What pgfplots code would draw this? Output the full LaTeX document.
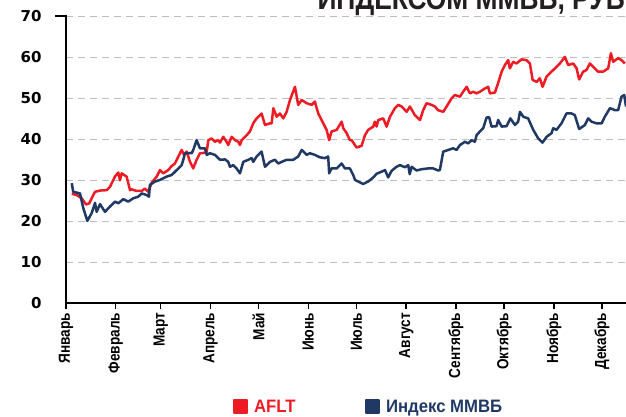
\documentclass[border=0pt]{standalone}
\usepackage{pgfplots}
\pgfplotsset{compat=1.18}
\usepackage{fontspec}
\setmainfont{Liberation Sans}
\newfontfamily\cond[FakeStretch=0.85]{Liberation Sans}
\newfontfamily\condL[FakeStretch=0.93]{Liberation Sans}
\newfontfamily\numfont{DejaVu Sans}
\definecolor{aflt}{RGB}{237,28,36}
\definecolor{micex}{RGB}{31,56,100}
\definecolor{gridgray}{RGB}{190,190,190}
\definecolor{titlegray}{RGB}{35,31,32}

\begin{document}
\begin{tikzpicture}
\begin{axis}[
    at={(0pt,0pt)}, anchor=south west,
    scale only axis, width=560pt, height=287pt,
    xmin=0, xmax=349, ymin=0, ymax=70,
    axis lines*=left,
    axis line style={line width=2pt},
    /pgf/number format/assume math mode=true,
    ytick={0,10,...,70},
    ymajorgrids,
    grid style={gridgray, line width=1.2pt, dash pattern=on 7pt off 5pt},
    ytick style={draw=none},
    yticklabel style={font=\numfont\bfseries\fontsize{15}{15}\selectfont, xshift=-15pt},
    xtick={0,31,59,90,120,151,181,212,243,273,304,334},
    xticklabels={Январь,Февраль,Март,Апрель,Май,Июнь,Июль,Август,Сентябрь,Октябрь,Ноябрь,Декабрь},
    xtick style={black, line width=1.5pt},
    tick align=outside, major tick length=6pt,
    xticklabel style={rotate=90, anchor=east, font=\cond\bfseries\fontsize{16}{16}\selectfont},
    legend style={at={(0.54,-0.36)}, anchor=center, draw=none, fill=none,
        legend columns=2, font=\condL\bfseries\fontsize{18}{18}\selectfont,
        /tikz/every even column/.append style={column sep=67pt}},
    legend image code/.code={\fill[#1] (0pt,-6.5pt) rectangle (13pt,6.5pt); \path (17pt,0pt);},
    every axis plot/.append style={line width=2.5pt, line join=round},
]
% AFLT
\addplot[aflt] coordinates {
(3.6,26.7)(6.7,26.4)(9.8,25.6)(12.5,24.1)(14.5,24.4)(17.0,26.4)(18.1,27.2)(21.2,27.5)(25.4,27.6)(27.4,28.4)
(30.5,30.9)(32.6,31.9)(33.6,30.0)(34.7,31.7)(37.8,30.9)(39.9,27.6)(40.9,27.8)(44.0,27.4)(47.2,27.4)(49.2,28.0)
(51.3,27.2)(53.4,29.4)(56.5,30.9)(58.6,32.5)(60.6,31.7)(63.7,32.5)(65.9,33.5)(67.9,34.1)(70.0,35.8)(72.1,37.4)
(73.5,36.2)(75.2,37.0)(77.3,34.5)(79.3,32.9)(81.4,35.0)(83.5,36.6)(86.6,36.7)(87.7,37.0)(88.7,39.8)(90.8,40.2)
(92.8,39.4)(94.9,39.8)(96.0,39.2)(98.0,40.6)(100.1,39.4)(101.1,38.6)(103.2,40.6)(105.3,39.8)(107.4,39.4)(108.4,38.6)
(109.5,39.8)(112.6,41.0)(114.6,41.9)(116.7,43.9)(118.8,45.1)(121.9,46.3)(124.0,43.5)(127.1,43.9)(128.2,43.9)(129.2,47.6)
(131.3,45.5)(133.3,46.3)(135.4,45.1)(137.5,46.7)(139.6,49.6)(142.7,52.8)(144.7,48.4)(146.9,49.6)(150.0,48.8)(153.1,48.4)
(155.1,49.2)(157.2,46.3)(159.3,44.7)(162.4,42.3)(164.0,39.8)(165.5,41.9)(168.7,42.3)(171.8,44.3)(172.8,42.7)(174.9,41.5)
(176.9,39.8)(178.0,39.8)(181.1,38.0)(184.2,38.4)(186.3,41.0)(188.3,42.3)(191.5,43.1)(192.5,44.3)(193.6,43.1)(194.6,44.7)
(197.7,45.1)(199.8,43.1)(201.9,45.5)(205.0,47.6)(207.0,48.4)(209.2,48.0)(212.3,46.7)(214.3,48.0)(217.4,45.9)(220.6,44.7)
(222.6,47.1)(224.7,48.8)(227.8,48.4)(229.9,48.0)(231.9,47.1)(235.1,46.7)(237.2,48.0)(240.3,50.0)(242.4,50.8)(245.5,50.4)
(247.5,51.6)(249.7,52.8)(251.7,51.2)(253.8,51.6)(255.9,51.2)(257.9,51.6)(261.1,52.4)(263.1,52.8)(264.2,51.2)(267.3,51.4)
(269.3,53.7)(271.5,56.5)(273.5,58.1)(275.6,59.3)(276.6,57.3)(278.7,58.9)(280.8,58.5)(283.9,59.5)(287.0,59.3)(289.1,58.5)
(290.8,54.5)(293.3,54.0)(295.3,54.9)(297.0,52.8)(299.5,55.3)(302.6,56.5)(304.7,57.3)(307.8,58.5)(310.9,60.1)(313.0,58.1)
(316.1,58.5)(318.2,57.3)(319.8,54.6)(322.3,56.5)(324.4,56.9)(326.5,58.5)(328.5,57.7)(331.6,56.5)(334.8,56.5)(337.9,57.3)
(339.6,61.0)(341.0,58.9)(344.1,59.8)(346.2,59.3)(348.3,58.5)
};
\addlegendentry{\textcolor{aflt}{AFLT}}
% Индекс ММВБ
\addplot[micex] coordinates {
(3.6,29.3)(4.5,27.2)(8.7,26.8)(10.8,23.2)(13.3,20.1)(16.0,22.0)(18.1,24.5)(19.1,22.3)(21.2,24.2)(24.3,22.3)
(27.4,23.6)(30.5,24.8)(32.6,24.4)(35.7,25.4)(38.8,24.8)(41.9,25.6)(45.0,26.0)(47.2,26.8)(50.3,26.4)(51.7,26.0)
(52.3,28.9)(55.5,29.7)(58.6,30.1)(62.7,30.9)(65.9,31.3)(69.0,32.5)(72.1,33.7)(73.1,35.0)(74.1,36.6)(76.2,36.6)
(78.3,36.6)(79.3,37.4)(81.4,39.8)(83.5,37.8)(86.6,37.8)(87.7,36.2)(89.7,36.6)(92.8,36.2)(96.0,35.0)(99.1,35.1)
(101.1,34.5)(102.2,33.3)(104.2,33.7)(106.3,32.9)(108.4,31.7)(110.5,34.5)(113.6,35.0)(115.7,35.4)(116.7,34.5)(118.8,35.8)
(121.9,37.0)(124.0,33.3)(127.1,34.5)(130.2,35.0)(132.3,34.1)(134.4,34.5)(137.5,35.0)(141.6,35.0)(144.7,35.8)(146.9,37.4)
(150.0,36.2)(152.0,36.6)(155.1,36.2)(158.3,35.6)(161.4,35.4)(163.4,35.8)(164.0,31.7)(165.5,32.9)(168.7,32.9)(171.8,34.1)
(173.8,32.9)(176.9,32.9)(179.0,31.3)(180.1,30.1)(182.1,29.7)(185.2,29.1)(188.3,29.7)(191.5,30.7)(193.6,31.6)(196.7,32.1)
(198.8,32.5)(200.8,30.7)(202.9,32.3)(206.0,33.3)(208.1,33.7)(211.2,33.2)(213.3,33.7)(214.2,31.5)(215.4,33.3)(218.5,32.4)
(221.6,32.7)(225.7,32.9)(228.8,32.9)(232.0,32.4)(233.0,32.5)(235.1,37.0)(238.2,37.4)(241.3,37.8)(243.4,37.4)(245.5,38.6)
(248.6,39.4)(250.7,39.0)(252.8,39.8)(254.8,39.4)(255.9,41.0)(257.9,41.9)(260.0,42.7)(262.1,45.3)(263.7,45.4)(265.2,43.1)
(268.3,43.2)(269.3,44.7)(271.5,43.1)(274.6,43.2)(276.9,45.1)(279.8,43.5)(281.8,44.3)(282.9,46.7)(285.0,45.5)(288.0,45.1)
(291.2,42.3)(294.3,40.2)(297.0,39.2)(299.5,40.6)(302.6,41.5)(303.6,42.7)(305.7,42.3)(308.8,43.9)(311.9,46.3)(315.1,46.3)
(317.1,45.9)(319.8,42.5)(323.4,43.5)(325.4,45.1)(327.5,44.3)(330.6,43.9)(333.8,43.9)(335.8,45.5)(339.0,47.6)(342.1,47.1)
(344.1,47.1)(346.2,50.4)(347.9,50.8)(349.0,48.0)
};
\addlegendentry{\textcolor{micex}{Индекс ММВБ}}
\end{axis}
% top cap of the y axis
\draw[line width=2pt] (1pt,287pt) -- (-11pt,287pt);
\node[anchor=base east, text=titlegray, inner sep=0pt,
      font=\cond\bfseries\fontsize{31}{31}\selectfont] at (559pt,294pt) {ИНДЕКСОМ ММВБ, РУБ};
\pgfresetboundingbox
\useasboundingbox (-66pt,-113.7pt) rectangle (560pt,303.3pt);
\end{tikzpicture}
\end{document}
